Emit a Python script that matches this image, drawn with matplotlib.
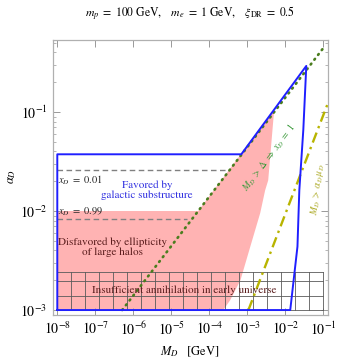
import matplotlib
matplotlib.use("Agg")
import matplotlib.pyplot as plt
from matplotlib.patches import Polygon
import numpy as np

plt.rcParams['font.family'] = 'STIXGeneral'
plt.rcParams['mathtext.fontset'] = 'stix'

# --- values (M_D in GeV, alpha_D) ---
# blue contour: favored by galactic substructure
blue_M = [1e-8, 1e-8, 6.95e-4, 3.57e-2, 2.98e-2, 2.34e-2, 2.09e-2, 1.35e-2, 1e-8]
blue_a = [1e-3, 0.0374, 0.0374, 0.292, 0.066, 0.0162, 0.00437, 1e-3, 1e-3]

# pink region: disfavored by ellipticity of large halos
pink_M = [1e-8, 1e-8, 5.1e-5, 5.1e-3, 3.55e-3, 2.95e-3, 2.19e-3, 1.2e-3, 6.6e-4, 3.55e-4, 2.34e-4]
pink_a = [1e-3, 1e-2, 1e-2, 0.105, 0.0204, 0.0162, 0.00955, 0.00437, 0.002, 0.00126, 1e-3]

# green dotted: M_D > Delta  =>  x_D = 1
green_M = [5.1e-7, 0.1]
green_a = [1e-3, 0.442]

# yellow dash-dot: M_D > alpha_D mu_D
yellow_M = [1.07e-3, 0.14]
yellow_a = [1e-3, 0.13]

# gray dashed x_D contours
xd_levels = ['0.01', '0.99']
xd_alpha = [0.026, 0.0083]
xd_Mend = [2.7e-4, 2.6e-5]

# insufficient annihilation box (mesh)
box_M = [1e-8, 1e-1]
box_a_lines = [1e-3, 1.38e-3, 1.95e-3, 2.4e-3]
n_box_cols = 19

fig = plt.figure(figsize=(3.37, 3.59), dpi=100)
ax = fig.add_axes([53/337, 1-315/359, 275/337, 275/359])
ax.set_xscale('log')
ax.set_yscale('log')

ax.add_patch(Polygon(list(zip(pink_M, pink_a)), closed=True, facecolor='#ffb3b3',
                     edgecolor='none', zorder=1))

# mesh of the annihilation box
grid_col = '#5a5a5a'
for a in box_a_lines:
    ax.plot(box_M, [a, a], color=grid_col, lw=0.6, zorder=2)
for m in np.logspace(np.log10(box_M[0]), np.log10(box_M[1]), n_box_cols + 1):
    ax.plot([m, m], [box_a_lines[0], box_a_lines[-1]], color=grid_col, lw=0.6, zorder=2)

for a, mend in zip(xd_alpha, xd_Mend):
    ax.plot([1e-8, mend], [a, a], color='#808080', lw=1.0, ls=(0, (4, 2.5)), zorder=3)

ax.plot(yellow_M, yellow_a, color='#b8b400', lw=1.7, ls=(0, (4.5, 2, 1, 2)), zorder=3)
ax.plot(green_M, green_a, color='#4a7d1e', lw=1.9, ls=(0, (0.4, 1.9)),
        dash_capstyle='round', zorder=4)
ax.plot(blue_M, blue_a, color='#1f1fff', lw=1.4, zorder=5)

ax.set_xlim(10**-8.113, 10**-0.876)
ax.set_ylim(10**-3.05, 10**-0.273)

for s in ax.spines.values():
    s.set_color('#b0b0b0')
    s.set_linewidth(0.9)
ax.tick_params(which='both', direction='in', top=True, right=True, color='#999999',
               labelsize=10, pad=4)
ax.tick_params(which='major', length=5, width=0.7)
ax.tick_params(which='minor', length=2.5, width=0.5)
ax.set_xticks([10.0**k for k in range(-8, 0)])
ax.set_yticks([1e-3, 1e-2, 1e-1])

tf = ax.transAxes
ax.text(0.018, 0.491, r'$x_D\ =\ 0.01$', transform=tf, fontsize=7.5, va='center',
        color='#222222', zorder=6)
ax.text(0.018, 0.374, r'$x_D\ =\ 0.99$', transform=tf, fontsize=7.5, va='center',
        color='#222222', zorder=6)
ax.text(0.342, 0.453, 'Favored by\ngalactic substructure', transform=tf, fontsize=8,
        ha='center', va='center', color='#3030e0', linespacing=1.05, zorder=6)
ax.text(0.218, 0.245, 'Disfavored by ellipticity\nof large halos', transform=tf,
        fontsize=8, ha='center', va='center', color='#5a1c1c', linespacing=1.05, zorder=6)
ax.text(0.476, 0.091, 'Insufficient annihilation in early universe', transform=tf,
        fontsize=8, ha='center', va='center', color='#5a1c1c', zorder=6)
ax.text(0.785, 0.572, r'$M_D\ >\ \Delta\ \Rightarrow\ x_D\ =\ 1$', transform=tf,
        fontsize=7, ha='center', va='center', rotation=53, color='#3c9a3c', zorder=6)
ax.text(0.962, 0.455, r'$M_D\ >\ \alpha_D\,\mu_D$', transform=tf, fontsize=7,
        ha='center', va='center', rotation=83, color='#aaa820', zorder=6)

fig.text(190/337, 1-14/359, r'$m_p\ =\ 100\ \mathrm{GeV},\quad m_e\ =\ 1\ \mathrm{GeV},\quad \xi_{\mathrm{DR}}\ =\ 0.5$',
         ha='center', va='center', fontsize=8.5)
fig.text(190/337, 1-352/359, r'$M_D\quad [\mathrm{GeV}]$', ha='center', va='center', fontsize=9)
fig.text(12/337, 1-176/359, r'$\alpha_D$', ha='center', va='center', rotation=90, fontsize=9)

fig.savefig('out.png', dpi=100)
